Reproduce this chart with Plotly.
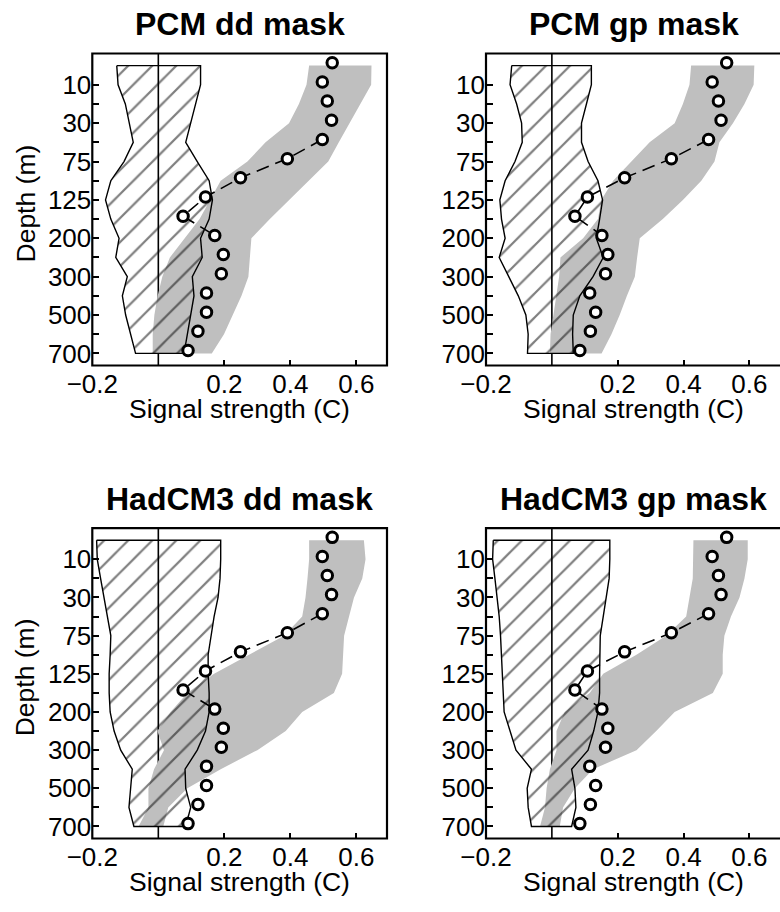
import plotly.graph_objects as go

# ---------------- data ----------------
depth_levels = [0, 10, 20, 30, 50, 75, 100, 125, 150, 200, 250, 300, 400, 500, 600, 700]
labelled_depths = [10, 30, 75, 125, 200, 300, 500, 700]
panel_titles = ["PCM dd mask", "PCM gp mask", "HadCM3 dd mask", "HadCM3 gp mask"]
x_tick_vals = [-0.2, 0.2, 0.4, 0.6]
x_tick_text = ["\u22120.2", "0.2", "0.4", "0.6"]

# observed signal (circles), one per depth level
obs_dd = [0.527, 0.497, 0.512, 0.525, 0.497, 0.391, 0.249, 0.143, 0.075, 0.171, 0.197, 0.191, 0.146, 0.146, 0.120, 0.090]
obs_gp = [0.531, 0.487, 0.506, 0.514, 0.476, 0.363, 0.221, 0.108, 0.070, 0.152, 0.170, 0.163, 0.115, 0.133, 0.117, 0.085]
# levels through which the dashed connecting line is visibly drawn
dashed_levels = [4, 5, 6, 7, 8, 9]

# model noise range (hatched), lower/upper bounds per level
noise_lo_pcm_dd = [-0.126, -0.122, -0.100, -0.089, -0.076, -0.104, -0.144, -0.160, -0.144, -0.119, -0.129, -0.094, -0.109, -0.099, -0.084, -0.069]
noise_hi_pcm_dd = [0.128, 0.128, 0.113, 0.098, 0.083, 0.118, 0.154, 0.164, 0.154, 0.128, 0.133, 0.103, 0.108, 0.098, 0.088, 0.078]
noise_lo_pcm_gp = [-0.122, -0.127, -0.107, -0.092, -0.090, -0.112, -0.142, -0.158, -0.153, -0.142, -0.160, -0.132, -0.102, -0.079, -0.072, -0.074]
noise_hi_pcm_gp = [0.120, 0.120, 0.105, 0.090, 0.090, 0.110, 0.140, 0.154, 0.145, 0.135, 0.156, 0.125, 0.085, 0.065, 0.063, 0.065]
noise_lo_had_dd = [-0.187, -0.185, -0.175, -0.165, -0.155, -0.144, -0.146, -0.149, -0.149, -0.146, -0.134, -0.114, -0.079, -0.084, -0.089, -0.074]
noise_hi_had_dd = [0.189, 0.189, 0.187, 0.181, 0.169, 0.159, 0.151, 0.151, 0.154, 0.154, 0.143, 0.118, 0.081, 0.083, 0.098, 0.083]
noise_lo_had_gp = [-0.178, -0.180, -0.173, -0.166, -0.160, -0.156, -0.153, -0.149, -0.147, -0.145, -0.127, -0.109, -0.062, -0.075, -0.072, -0.062]
noise_hi_had_gp = [0.176, 0.176, 0.174, 0.166, 0.156, 0.147, 0.145, 0.145, 0.145, 0.140, 0.127, 0.110, 0.060, 0.070, 0.073, 0.060]

# model signal range (grey), lower/upper bounds per level
model_lo_pcm_dd = [0.457, 0.449, 0.426, 0.396, 0.325, 0.270, 0.189, 0.158, 0.125, 0.080, 0.035, 0.012, -0.002, -0.012, -0.017, -0.017]
model_hi_pcm_dd = [0.646, 0.645, 0.611, 0.579, 0.547, 0.515, 0.454, 0.396, 0.338, 0.282, 0.278, 0.273, 0.252, 0.226, 0.199, 0.162]
model_lo_pcm_gp = [0.423, 0.418, 0.398, 0.373, 0.297, 0.241, 0.186, 0.150, 0.140, 0.095, 0.026, 0.022, 0.014, 0.006, -0.004, -0.006]
model_hi_pcm_gp = [0.615, 0.613, 0.585, 0.550, 0.509, 0.494, 0.454, 0.398, 0.337, 0.267, 0.259, 0.252, 0.228, 0.206, 0.181, 0.151]
model_lo_had_dd = [0.457, 0.457, 0.452, 0.446, 0.436, 0.381, 0.275, 0.169, 0.088, 0.037, -0.003, 0.017, -0.013, -0.030, -0.030, -0.060]
model_hi_had_dd = [0.623, 0.628, 0.618, 0.593, 0.578, 0.563, 0.560, 0.557, 0.532, 0.436, 0.386, 0.300, 0.189, 0.088, 0.030, 0.015]
model_lo_had_gp = [0.430, 0.430, 0.428, 0.418, 0.408, 0.347, 0.257, 0.156, 0.115, 0.039, 0.014, 0.014, -0.006, -0.016, -0.021, -0.036]
model_hi_had_gp = [0.595, 0.595, 0.585, 0.570, 0.544, 0.524, 0.519, 0.519, 0.489, 0.373, 0.317, 0.257, 0.125, 0.070, 0.034, 0.024]

panels = [
    (obs_dd, noise_lo_pcm_dd, noise_hi_pcm_dd, model_lo_pcm_dd, model_hi_pcm_dd),
    (obs_gp, noise_lo_pcm_gp, noise_hi_pcm_gp, model_lo_pcm_gp, model_hi_pcm_gp),
    (obs_dd, noise_lo_had_dd, noise_hi_had_dd, model_lo_had_dd, model_hi_had_dd),
    (obs_gp, noise_lo_had_gp, noise_hi_had_gp, model_lo_had_gp, model_hi_had_gp),
]

# ---------------- layout geometry (pixels) ----------------
W, H = 780, 912
boxes = [  # (left, right, top, bottom)
    (92.3, 387.0, 53.5, 365.5),
    (486.0, 781.0, 53.5, 365.5),
    (92.3, 387.0, 528.2, 838.5),
    (486.0, 781.0, 528.2, 838.5),
]
OBS_SHIFT = -0.15
X_RANGE = [-0.2001, 0.693]
Y_RANGE = [15.63, -0.63]

FONT = "Liberation Sans, Arial, Helvetica, sans-serif"
GREY = "#bfbfbf"

fig = go.Figure()
level_idx = list(range(len(depth_levels)))
tick_idx = level_idx[1:]
tick_txt = [str(d) if d in labelled_depths else "" for d in depth_levels[1:]]

layout = dict(
    width=W, height=H, margin=dict(l=0, r=0, t=0, b=0, autoexpand=False),
    paper_bgcolor="white", plot_bgcolor="white",
    showlegend=False, font=dict(family=FONT, color="black", size=26),
    shapes=[], annotations=[],
)

for k, (obs, nlo, nhi, mlo, mhi) in enumerate(panels):
    n = k + 1
    xa = "x" if n == 1 else f"x{n}"
    ya = "y" if n == 1 else f"y{n}"
    left, right, top, bottom = boxes[k]
    dom_x = [left / W, min(right / W, 1.0)]
    dom_y = [1 - bottom / H, 1 - top / H]

    # grey model range
    fig.add_trace(go.Scatter(
        x=mlo + mhi[::-1], y=level_idx + level_idx[::-1], xaxis=xa, yaxis=ya,
        mode="lines", fill="toself", fillcolor=GREY, line=dict(width=0, color=GREY),
        hoverinfo="skip"))
    # hatched noise range
    fig.add_trace(go.Scatter(
        x=nlo + nhi[::-1] + [nlo[0]], y=level_idx + level_idx[::-1] + [0], xaxis=xa, yaxis=ya,
        mode="lines", fill="toself", fillcolor="rgba(0,0,0,0)",
        fillpattern=dict(shape="/", size=17, solidity=0.13, fgcolor="black",
                         bgcolor="rgba(0,0,0,0)"),
        line=dict(width=1.4, color="black"), hoverinfo="skip"))
    # dashed connecting line
    fig.add_trace(go.Scatter(
        x=[obs[i] for i in dashed_levels], y=[i + OBS_SHIFT for i in dashed_levels],
        xaxis=xa, yaxis=ya, mode="lines",
        line=dict(color="black", width=1.6, dash="13px,7px"), hoverinfo="skip"))
    # observations
    fig.add_trace(go.Scatter(
        x=obs, y=[i + OBS_SHIFT for i in level_idx], xaxis=xa, yaxis=ya,
        mode="markers",
        marker=dict(symbol="circle", size=10.5, color="white",
                    line=dict(color="black", width=3))))

    xkey = "xaxis" if n == 1 else f"xaxis{n}"
    ykey = "yaxis" if n == 1 else f"yaxis{n}"
    layout[xkey] = dict(
        domain=dom_x, range=X_RANGE, anchor=ya, showgrid=False, zeroline=False,
        showline=False, ticks="inside", ticklen=6, tickwidth=1.8, tickcolor="black",
        tickvals=x_tick_vals, ticktext=x_tick_text, tickfont=dict(size=26),
        automargin=False)
    layout[ykey] = dict(
        domain=dom_y, range=Y_RANGE, anchor=xa, showgrid=False, zeroline=False,
        showline=False, ticks="inside", ticklen=7, tickwidth=1.8, tickcolor="black",
        tickvals=tick_idx, ticktext=tick_txt, tickfont=dict(size=26),
        automargin=False)

    xd = f"{xa} domain"
    yd = f"{ya} domain"
    # zero line (below traces)
    layout["shapes"].append(dict(type="line", xref=xa, yref=yd, x0=0, x1=0, y0=0, y1=1,
                                 line=dict(color="black", width=1.6), layer="below"))
    # frame
    x1 = 1.0 if n in (1, 3) else 1.02
    layout["shapes"].append(dict(type="rect", xref=xd, yref=yd, x0=0, x1=x1, y0=0, y1=1,
                                 line=dict(color="black", width=2.2), layer="above"))
    # panel title
    cx = (left + min(right, 781)) / 2 / W
    title_y = top - 29
    layout["annotations"].append(dict(
        text=f"<b>{panel_titles[k]}</b>", xref="paper", yref="paper",
        x=cx, y=1 - title_y / H, xanchor="center", yanchor="middle",
        showarrow=False, font=dict(size=32, family=FONT)))
    # x-axis title
    layout["annotations"].append(dict(
        text="Signal strength (C)", xref="paper", yref="paper",
        x=cx, y=1 - (bottom + 43) / H, xanchor="center", yanchor="middle",
        showarrow=False, font=dict(size=26.5, family=FONT)))
    # y-axis title (left column only)
    if n in (1, 3):
        layout["annotations"].append(dict(
            text="Depth (m)", xref="paper", yref="paper", textangle=-90,
            x=25 / W, y=1 - ((top + bottom) / 2 - 6) / H, xanchor="center", yanchor="middle",
            showarrow=False, font=dict(size=26.5, family=FONT)))

fig.update_layout(**layout)
fig.write_html("out.html")
